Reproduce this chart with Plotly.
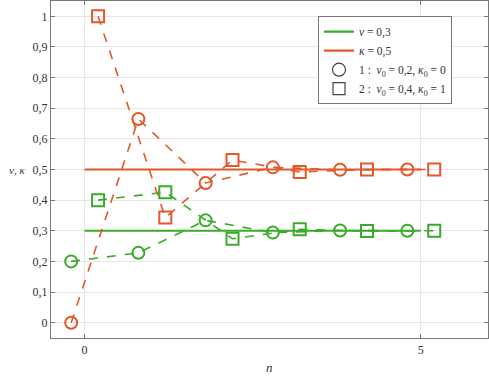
import plotly.graph_objects as go

# Data
n_circ = [-0.2, 0.8, 1.8, 2.8, 3.8, 4.8]
n_sq = [0.2, 1.2, 2.2, 3.2, 4.2, 5.2]
nu_1 = [0.2, 0.228, 0.334, 0.294, 0.301, 0.3]
kappa_1 = [0.0, 0.665, 0.456, 0.507, 0.499, 0.5]
nu_2 = [0.4, 0.426, 0.274, 0.305, 0.299, 0.3]
kappa_2 = [1.0, 0.343, 0.531, 0.492, 0.5, 0.5]
nu_eq = 0.3
kappa_eq = 0.5
n_eq = [0, 5]
x_ticks = [0, 5]
y_ticks = [0, 0.1, 0.2, 0.3, 0.4, 0.5, 0.6, 0.7, 0.8, 0.9, 1]
y_tick_labels = ["0", "0,1", "0,2", "0,3", "0,4", "0,5", "0,6", "0,7", "0,8", "0,9", "1"]

GREEN = "#3aaa2a"
ORANGE = "#e2582a"
FONT = "Liberation Serif, DejaVu Serif, serif"

fig = go.Figure()

def series(x, y, color, symbol):
    fig.add_trace(go.Scatter(
        x=x, y=y, mode="lines+markers", showlegend=False,
        line=dict(color=color, width=1.6, dash="dash"),
        marker=dict(symbol=symbol, size=12, color=color,
                    line=dict(color=color, width=2)),
    ))

# equilibrium lines
fig.add_trace(go.Scatter(x=n_eq, y=[nu_eq] * 2, mode="lines",
                         line=dict(color=GREEN, width=2.2), name="<i>\u03bd</i> = 0,3"))
fig.add_trace(go.Scatter(x=n_eq, y=[kappa_eq] * 2, mode="lines",
                         line=dict(color=ORANGE, width=2.2), name="<i>\u03ba</i> = 0,5"))

series(n_circ, nu_1, GREEN, "circle-open")
series(n_circ, kappa_1, ORANGE, "circle-open")
series(n_sq, nu_2, GREEN, "square-open")
series(n_sq, kappa_2, ORANGE, "square-open")

# legend-only marker entries
fig.add_trace(go.Scatter(x=[None], y=[None], mode="markers",
                         marker=dict(symbol="circle-open", size=13, color="#444",
                                     line=dict(color="#444", width=1.2)),
                         name="1 :  <i>\u03bd</i><sub>0</sub> = 0,2, <i>\u03ba</i><sub>0</sub> = 0"))
fig.add_trace(go.Scatter(x=[None], y=[None], mode="markers",
                         marker=dict(symbol="square-open", size=12, color="#444",
                                     line=dict(color="#444", width=1.2)),
                         name="2 :  <i>\u03bd</i><sub>0</sub> = 0,4, <i>\u03ba</i><sub>0</sub> = 1"))

axis_common = dict(showgrid=True, gridcolor="#e6e6e6", gridwidth=1,
                   showline=True, linecolor="#777", linewidth=1.2, mirror="ticks",
                   ticks="inside", ticklen=4, tickcolor="#777", zeroline=False,
                   tickfont=dict(family=FONT, size=12, color="#333"))

fig.update_layout(
    width=489, height=376,
    margin=dict(l=51, r=1, t=1, b=38),
    plot_bgcolor="white", paper_bgcolor="white",
    font=dict(family=FONT, size=12, color="#333"),
    xaxis=dict(range=[-0.5, 6.0], tickvals=x_ticks, **axis_common),
    yaxis=dict(range=[-0.05, 1.05], tickvals=y_ticks, ticktext=y_tick_labels, **axis_common),
    legend=dict(x=0.611, y=0.955, xanchor="left", yanchor="top",
                bgcolor="white", bordercolor="#777", borderwidth=1,
                font=dict(family=FONT, size=11.5, color="#333"),
                tracegroupgap=0, itemwidth=30),
    annotations=[
        dict(text="<i>n</i>", x=0.5, y=-0.06, xref="paper", yref="paper",
             showarrow=False, xanchor="center", yanchor="top",
             font=dict(family=FONT, size=13, color="#333")),
        dict(text="<i>\u03bd, \u03ba</i>", x=-0.055, y=0.5, xref="paper", yref="y",
             showarrow=False, xanchor="right", yanchor="middle",
             font=dict(family=FONT, size=11, color="#333")),
    ],
)

fig.write_html("out.html", config={"displayModeBar": False},
               post_script="document.body.style.margin='0';")
